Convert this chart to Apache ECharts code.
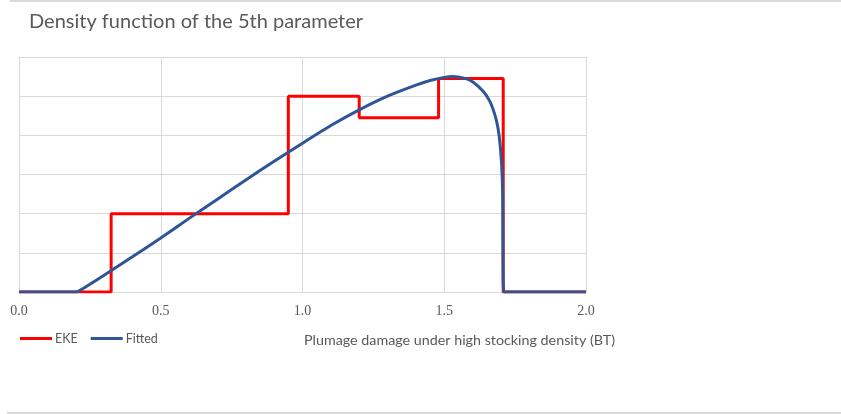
<!DOCTYPE html>
<html>
<head>
<meta charset="utf-8">
<script src="https://cdn.jsdelivr.net/npm/echarts@6/dist/echarts.min.js"></script>
<style>
  html, body { margin: 0; padding: 0; background: #fff; }
  #main { width: 841px; height: 414px; }
</style>
</head>
<body>
<div id="main"></div>
<script>
// EKE step histogram (corner points)
var ekeX = [0, 0.325, 0.325, 0.95, 0.95, 1.2, 1.2, 1.48, 1.48, 1.708, 1.708, 2.0];
var ekeY = [0, 0, 2, 2, 5, 5, 4.45, 4.45, 5.45, 5.45, 0, 0];

// fitted density
var fitX = [0, 0.2, 0.25, 0.3, 0.4, 0.5, 0.6, 0.7, 0.8, 0.9, 1.0, 1.1, 1.2, 1.3, 1.4, 1.45, 1.5, 1.53, 1.57, 1.6, 1.638, 1.66, 1.673, 1.685, 1.694, 1.702, 1.706, 1.71, 2.0];
var fitY = [0, 0, 0.2, 0.43, 0.9, 1.38, 1.88, 2.37, 2.86, 3.34, 3.8, 4.25, 4.65, 5.0, 5.28, 5.4, 5.48, 5.5, 5.46, 5.37, 5.12, 4.88, 4.65, 4.35, 3.97, 3.3, 2.5, 0, 0];

var xTicks = [0, 0.5, 1.0, 1.5, 2.0];

function pairs(xs, ys) {
  return xs.map(function (x, i) { return [x, ys[i]]; });
}

var myChart = echarts.init(document.getElementById('main'));
var grey = '#595959';

myChart.setOption({
  animation: false,
  title: [
    {
      text: 'Density function of the 5th parameter',
      left: 24, top: 7,
      textStyle: { fontFamily: 'Lato', fontSize: 20, fontWeight: 'normal', color: grey }
    },
    {
      text: 'Plumage damage under high stocking density (BT)',
      left: 299, top: 328,
      textStyle: { fontFamily: 'Lato', fontSize: 14.3, fontWeight: 'normal', color: grey }
    }
  ],
  legend: {
    left: 20, top: 332,
    padding: 0,
    icon: 'rect',
    itemWidth: 32, itemHeight: 3,
    itemGap: 13,
    textStyle: { fontFamily: 'Lato', fontSize: 12.5, color: grey, padding: [0, 0, 0, -2] },
    data: ['EKE', 'Fitted']
  },
  grid: { left: 19, right: 255, top: 57, bottom: 122, containLabel: false },
  xAxis: {
    type: 'value',
    min: 0, max: 2, interval: 0.5,
    axisLine: { lineStyle: { color: '#d9d9d9' } },
    axisTick: { show: false },
    axisLabel: {
      margin: 12,
      fontFamily: 'Liberation Serif', fontSize: 14, color: grey,
      formatter: function (v) {
        for (var i = 0; i < xTicks.length; i++) {
          if (Math.abs(xTicks[i] - v) < 1e-9) return xTicks[i].toFixed(1);
        }
        return '';
      }
    },
    splitLine: { show: true, lineStyle: { color: '#d9d9d9', width: 1 } }
  },
  yAxis: {
    type: 'value',
    min: 0, max: 6, interval: 1,
    axisLine: { show: false },
    axisTick: { show: false },
    axisLabel: { show: false },
    splitLine: { show: true, lineStyle: { color: '#d9d9d9', width: 1 } }
  },
  graphic: [
    { type: 'line', shape: { x1: 10, y1: 1, x2: 841, y2: 1 }, style: { stroke: '#d9d9d9', lineWidth: 2 } },
    { type: 'line', shape: { x1: 7, y1: 413, x2: 841, y2: 413 }, style: { stroke: '#d9d9d9', lineWidth: 2 } }
  ],
  series: [
    {
      name: 'EKE',
      type: 'line',
      data: pairs(ekeX, ekeY),
      showSymbol: false,
      symbol: 'none',
      lineStyle: { color: '#ff0000', width: 3 },
      itemStyle: { color: '#ff0000' }
    },
    {
      name: 'Fitted',
      type: 'line',
      data: pairs(fitX, fitY),
      smooth: 0.2,
      showSymbol: false,
      symbol: 'none',
      lineStyle: { color: '#2f5597', width: 3 },
      itemStyle: { color: '#2f5597' }
    }
  ]
});
</script>
</body>
</html>
